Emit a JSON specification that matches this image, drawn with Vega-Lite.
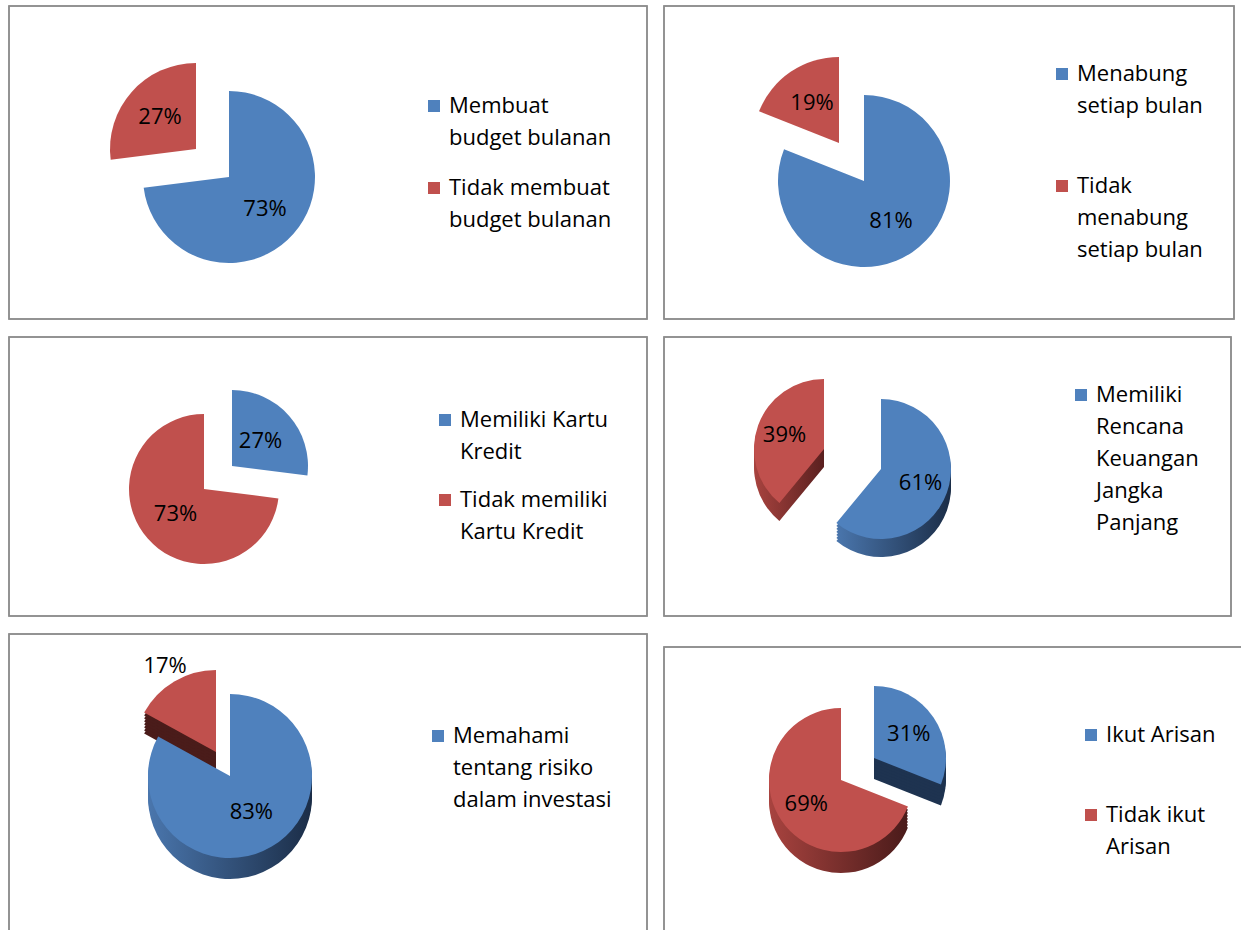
{
"$schema": "https://vega.github.io/schema/vega-lite/v6.json",
"background": "white",
"padding": {"left": 8, "top": 5, "right": 0, "bottom": 0},
"spacing": 16,
"resolve": {"scale": {"color": "independent", "theta": "independent"}, "legend": {"color": "independent"}},
"datasets": {
 "p1": [{"cat": "Membuat|budget bulanan", "v": 73, "label": "73%", "i": 1}, {"cat": "Tidak membuat|budget bulanan", "v": 27, "label": "27%", "i": 2}],
 "p2": [{"cat": "Menabung|setiap bulan", "v": 81, "label": "81%", "i": 1}, {"cat": "Tidak|menabung|setiap bulan", "v": 19, "label": "19%", "i": 2}],
 "p3": [{"cat": "Memiliki Kartu|Kredit", "v": 27, "label": "27%", "i": 1}, {"cat": "Tidak memiliki|Kartu Kredit", "v": 73, "label": "73%", "i": 2}],
 "p4": [{"cat": "Memiliki|Rencana|Keuangan|Jangka|Panjang", "v": 61, "label": "61%", "i": 1}, {"cat": "Tidak memiliki|Rencana|Keuangan|Jangka|Panjang", "v": 39, "label": "39%", "i": 2}],
 "p5": [{"cat": "Memahami|tentang risiko|dalam investasi", "v": 83, "label": "83%", "i": 1}, {"cat": "Tidak memahami|tentang risiko|dalam investasi", "v": 17, "label": "17%", "i": 2}],
 "p6": [{"cat": "Ikut Arisan", "v": 31, "label": "31%", "i": 1}, {"cat": "Tidak ikut|Arisan", "v": 69, "label": "69%", "i": 2}]
},
"vconcat": [
 {"spacing": 15, "resolve": {"scale": {"color": "independent", "theta": "independent"}, "legend": {"color": "independent"}}, "hconcat": [
  {"width": 638, "height": 313, "data": {"name": "p1"},
   "layer": [
    {"mark": {"type": "rect", "fill": null, "stroke": "#8c8c8c", "strokeWidth": 1.5}, "encoding": {}},
    {"mark": {"type": "arc", "x": 220, "y": 171, "radius": 86},
     "encoding": {"theta": {"field": "v", "type": "quantitative", "stack": true}, "order": {"field": "i", "type": "quantitative"},
      "color": {"field": "cat", "type": "nominal", "scale": {"range": ["#4F81BD", "#C0504D"]}, "legend": {"title": null, "orient": "none", "legendX": 414, "legendY": 89, "rowPadding": 28, "labelExpr": "split(datum.label, '|')"}},
      "opacity": {"condition": {"test": "datum.i==1", "value": 1}, "value": 0}}},
    {"mark": {"type": "arc", "x": 187, "y": 143, "radius": 86},
     "encoding": {"theta": {"field": "v", "type": "quantitative", "stack": true}, "order": {"field": "i", "type": "quantitative"},
      "color": {"field": "cat", "type": "nominal"}, "opacity": {"condition": {"test": "datum.i==2", "value": 1}, "value": 0}}},
    {"mark": {"type": "text", "x": 220, "y": 171, "radius": 48},
     "encoding": {"theta": {"field": "v", "type": "quantitative", "stack": true}, "order": {"field": "i", "type": "quantitative"},
      "text": {"field": "label"}, "opacity": {"condition": {"test": "datum.i==1", "value": 1}, "value": 0}}},
    {"mark": {"type": "text", "x": 187, "y": 143, "radius": 48},
     "encoding": {"theta": {"field": "v", "type": "quantitative", "stack": true}, "order": {"field": "i", "type": "quantitative"},
      "text": {"field": "label"}, "opacity": {"condition": {"test": "datum.i==2", "value": 1}, "value": 0}}}
   ]},
  {"width": 570, "height": 313, "data": {"name": "p2"},
   "layer": [
    {"mark": {"type": "rect", "fill": null, "stroke": "#8c8c8c", "strokeWidth": 1.5}, "encoding": {}},
    {"mark": {"type": "arc", "x": 200, "y": 175, "radius": 86},
     "encoding": {"theta": {"field": "v", "type": "quantitative", "stack": true}, "order": {"field": "i", "type": "quantitative"},
      "color": {"field": "cat", "type": "nominal", "scale": {"range": ["#4F81BD", "#C0504D"]}, "legend": {"title": null, "orient": "none", "legendX": 387, "legendY": 57, "rowPadding": 58, "labelExpr": "split(datum.label, '|')"}},
      "opacity": {"condition": {"test": "datum.i==1", "value": 1}, "value": 0}}},
    {"mark": {"type": "arc", "x": 175, "y": 137, "radius": 86},
     "encoding": {"theta": {"field": "v", "type": "quantitative", "stack": true}, "order": {"field": "i", "type": "quantitative"},
      "color": {"field": "cat", "type": "nominal"}, "opacity": {"condition": {"test": "datum.i==2", "value": 1}, "value": 0}}},
    {"mark": {"type": "text", "x": 200, "y": 175, "radius": 48},
     "encoding": {"theta": {"field": "v", "type": "quantitative", "stack": true}, "order": {"field": "i", "type": "quantitative"},
      "text": {"field": "label"}, "opacity": {"condition": {"test": "datum.i==1", "value": 1}, "value": 0}}},
    {"mark": {"type": "text", "x": 175, "y": 137, "radius": 48},
     "encoding": {"theta": {"field": "v", "type": "quantitative", "stack": true}, "order": {"field": "i", "type": "quantitative"},
      "text": {"field": "label"}, "opacity": {"condition": {"test": "datum.i==2", "value": 1}, "value": 0}}}
   ]}
 ]},
 {"spacing": 15, "resolve": {"scale": {"color": "independent", "theta": "independent"}, "legend": {"color": "independent"}}, "hconcat": [
  {"width": 638, "height": 279, "data": {"name": "p3"},
   "layer": [
    {"mark": {"type": "rect", "fill": null, "stroke": "#8c8c8c", "strokeWidth": 1.5}, "encoding": {}},
    {"mark": {"type": "arc", "x": 223, "y": 129, "radius": 76},
     "encoding": {"theta": {"field": "v", "type": "quantitative", "stack": true}, "order": {"field": "i", "type": "quantitative"},
      "color": {"field": "cat", "type": "nominal", "scale": {"range": ["#4F81BD", "#C0504D"]}, "legend": {"title": null, "orient": "none", "legendX": 425, "legendY": 72, "rowPadding": 26, "labelExpr": "split(datum.label, '|')"}},
      "opacity": {"condition": {"test": "datum.i==1", "value": 1}, "value": 0}}},
    {"mark": {"type": "arc", "x": 195, "y": 152, "radius": 75},
     "encoding": {"theta": {"field": "v", "type": "quantitative", "stack": true}, "order": {"field": "i", "type": "quantitative"},
      "color": {"field": "cat", "type": "nominal"}, "opacity": {"condition": {"test": "datum.i==2", "value": 1}, "value": 0}}},
    {"mark": {"type": "text", "x": 223, "y": 129, "radius": 38},
     "encoding": {"theta": {"field": "v", "type": "quantitative", "stack": true}, "order": {"field": "i", "type": "quantitative"},
      "text": {"field": "label"}, "opacity": {"condition": {"test": "datum.i==1", "value": 1}, "value": 0}}},
    {"mark": {"type": "text", "x": 195, "y": 152, "radius": 38},
     "encoding": {"theta": {"field": "v", "type": "quantitative", "stack": true}, "order": {"field": "i", "type": "quantitative"},
      "text": {"field": "label"}, "opacity": {"condition": {"test": "datum.i==2", "value": 1}, "value": 0}}}
   ]},
  {"width": 567, "height": 279, "data": {"name": "p4"},
   "layer": [
    {"mark": {"type": "rect", "fill": null, "stroke": "#8c8c8c", "strokeWidth": 1.5}, "encoding": {}},
    {"mark": {"type": "arc", "x": 160, "y": 130, "radius": 70, "fill": {"gradient": "linear", "x1": 0, "y1": 0, "x2": 1, "y2": 0, "stops": [{"offset": 0, "color": "#a8433f"}, {"offset": 1, "color": "#5a201f"}]}},
     "encoding": {"theta": {"field": "v", "type": "quantitative", "stack": true}, "order": {"field": "i", "type": "quantitative"}, "opacity": {"condition": {"test": "datum.i==2", "value": 1}, "value": 0}}},
    {"mark": {"type": "arc", "x": 160, "y": 127, "radius": 70, "fill": {"gradient": "linear", "x1": 0, "y1": 0, "x2": 1, "y2": 0, "stops": [{"offset": 0, "color": "#a8433f"}, {"offset": 1, "color": "#5a201f"}]}},
     "encoding": {"theta": {"field": "v", "type": "quantitative", "stack": true}, "order": {"field": "i", "type": "quantitative"}, "opacity": {"condition": {"test": "datum.i==2", "value": 1}, "value": 0}}},
    {"mark": {"type": "arc", "x": 160, "y": 124, "radius": 70, "fill": {"gradient": "linear", "x1": 0, "y1": 0, "x2": 1, "y2": 0, "stops": [{"offset": 0, "color": "#a8433f"}, {"offset": 1, "color": "#5a201f"}]}},
     "encoding": {"theta": {"field": "v", "type": "quantitative", "stack": true}, "order": {"field": "i", "type": "quantitative"}, "opacity": {"condition": {"test": "datum.i==2", "value": 1}, "value": 0}}},
    {"mark": {"type": "arc", "x": 160, "y": 121, "radius": 70, "fill": {"gradient": "linear", "x1": 0, "y1": 0, "x2": 1, "y2": 0, "stops": [{"offset": 0, "color": "#a8433f"}, {"offset": 1, "color": "#5a201f"}]}},
     "encoding": {"theta": {"field": "v", "type": "quantitative", "stack": true}, "order": {"field": "i", "type": "quantitative"}, "opacity": {"condition": {"test": "datum.i==2", "value": 1}, "value": 0}}},
    {"mark": {"type": "arc", "x": 160, "y": 118, "radius": 70, "fill": {"gradient": "linear", "x1": 0, "y1": 0, "x2": 1, "y2": 0, "stops": [{"offset": 0, "color": "#a8433f"}, {"offset": 1, "color": "#5a201f"}]}},
     "encoding": {"theta": {"field": "v", "type": "quantitative", "stack": true}, "order": {"field": "i", "type": "quantitative"}, "opacity": {"condition": {"test": "datum.i==2", "value": 1}, "value": 0}}},
    {"mark": {"type": "arc", "x": 160, "y": 115, "radius": 70, "fill": {"gradient": "linear", "x1": 0, "y1": 0, "x2": 1, "y2": 0, "stops": [{"offset": 0, "color": "#a8433f"}, {"offset": 1, "color": "#5a201f"}]}},
     "encoding": {"theta": {"field": "v", "type": "quantitative", "stack": true}, "order": {"field": "i", "type": "quantitative"}, "opacity": {"condition": {"test": "datum.i==2", "value": 1}, "value": 0}}},
    {"mark": {"type": "arc", "x": 217, "y": 150, "radius": 70, "fill": {"gradient": "linear", "x1": 0, "y1": 0, "x2": 1, "y2": 0, "stops": [{"offset": 0, "color": "#4a76ad"}, {"offset": 1, "color": "#1b2d47"}]}},
     "encoding": {"theta": {"field": "v", "type": "quantitative", "stack": true}, "order": {"field": "i", "type": "quantitative"}, "opacity": {"condition": {"test": "datum.i==1", "value": 1}, "value": 0}}},
    {"mark": {"type": "arc", "x": 217, "y": 147, "radius": 70, "fill": {"gradient": "linear", "x1": 0, "y1": 0, "x2": 1, "y2": 0, "stops": [{"offset": 0, "color": "#4a76ad"}, {"offset": 1, "color": "#1b2d47"}]}},
     "encoding": {"theta": {"field": "v", "type": "quantitative", "stack": true}, "order": {"field": "i", "type": "quantitative"}, "opacity": {"condition": {"test": "datum.i==1", "value": 1}, "value": 0}}},
    {"mark": {"type": "arc", "x": 217, "y": 144, "radius": 70, "fill": {"gradient": "linear", "x1": 0, "y1": 0, "x2": 1, "y2": 0, "stops": [{"offset": 0, "color": "#4a76ad"}, {"offset": 1, "color": "#1b2d47"}]}},
     "encoding": {"theta": {"field": "v", "type": "quantitative", "stack": true}, "order": {"field": "i", "type": "quantitative"}, "opacity": {"condition": {"test": "datum.i==1", "value": 1}, "value": 0}}},
    {"mark": {"type": "arc", "x": 217, "y": 141, "radius": 70, "fill": {"gradient": "linear", "x1": 0, "y1": 0, "x2": 1, "y2": 0, "stops": [{"offset": 0, "color": "#4a76ad"}, {"offset": 1, "color": "#1b2d47"}]}},
     "encoding": {"theta": {"field": "v", "type": "quantitative", "stack": true}, "order": {"field": "i", "type": "quantitative"}, "opacity": {"condition": {"test": "datum.i==1", "value": 1}, "value": 0}}},
    {"mark": {"type": "arc", "x": 217, "y": 138, "radius": 70, "fill": {"gradient": "linear", "x1": 0, "y1": 0, "x2": 1, "y2": 0, "stops": [{"offset": 0, "color": "#4a76ad"}, {"offset": 1, "color": "#1b2d47"}]}},
     "encoding": {"theta": {"field": "v", "type": "quantitative", "stack": true}, "order": {"field": "i", "type": "quantitative"}, "opacity": {"condition": {"test": "datum.i==1", "value": 1}, "value": 0}}},
    {"mark": {"type": "arc", "x": 217, "y": 135, "radius": 70, "fill": {"gradient": "linear", "x1": 0, "y1": 0, "x2": 1, "y2": 0, "stops": [{"offset": 0, "color": "#4a76ad"}, {"offset": 1, "color": "#1b2d47"}]}},
     "encoding": {"theta": {"field": "v", "type": "quantitative", "stack": true}, "order": {"field": "i", "type": "quantitative"}, "opacity": {"condition": {"test": "datum.i==1", "value": 1}, "value": 0}}},
    {"mark": {"type": "arc", "x": 217, "y": 132, "radius": 70},
     "encoding": {"theta": {"field": "v", "type": "quantitative", "stack": true}, "order": {"field": "i", "type": "quantitative"},
      "color": {"field": "cat", "type": "nominal", "scale": {"range": ["#4F81BD", "#C0504D"]}, "legend": {"title": null, "orient": "none", "legendX": 406, "legendY": 47, "values": ["Memiliki|Rencana|Keuangan|Jangka|Panjang"], "labelExpr": "split(datum.label, '|')"}},
      "opacity": {"condition": {"test": "datum.i==1", "value": 1}, "value": 0}}},
    {"mark": {"type": "arc", "x": 160, "y": 112, "radius": 70},
     "encoding": {"theta": {"field": "v", "type": "quantitative", "stack": true}, "order": {"field": "i", "type": "quantitative"},
      "color": {"field": "cat", "type": "nominal"}, "opacity": {"condition": {"test": "datum.i==2", "value": 1}, "value": 0}}},
    {"mark": {"type": "text", "x": 217, "y": 132, "radius": 42},
     "encoding": {"theta": {"field": "v", "type": "quantitative", "stack": true}, "order": {"field": "i", "type": "quantitative"},
      "text": {"field": "label"}, "opacity": {"condition": {"test": "datum.i==1", "value": 1}, "value": 0}}},
    {"mark": {"type": "text", "x": 160, "y": 112, "radius": 42},
     "encoding": {"theta": {"field": "v", "type": "quantitative", "stack": true}, "order": {"field": "i", "type": "quantitative"},
      "text": {"field": "label"}, "opacity": {"condition": {"test": "datum.i==2", "value": 1}, "value": 0}}}
   ]}
 ]},
 {"spacing": 15, "resolve": {"scale": {"color": "independent", "theta": "independent"}, "legend": {"color": "independent"}}, "hconcat": [
  {"width": 638, "height": 300, "data": {"name": "p5"},
   "layer": [
    {"mark": {"type": "rect", "fill": null, "stroke": "#8c8c8c", "strokeWidth": 1.5}, "encoding": {}},
    {"mark": {"type": "arc", "x": 207, "y": 139, "radius": 82, "fill": "#4a1c1a"},
     "encoding": {"theta": {"field": "v", "type": "quantitative", "stack": true}, "order": {"field": "i", "type": "quantitative"}, "opacity": {"condition": {"test": "datum.i==2", "value": 1}, "value": 0}}},
    {"mark": {"type": "arc", "x": 207, "y": 136, "radius": 82, "fill": "#4a1c1a"},
     "encoding": {"theta": {"field": "v", "type": "quantitative", "stack": true}, "order": {"field": "i", "type": "quantitative"}, "opacity": {"condition": {"test": "datum.i==2", "value": 1}, "value": 0}}},
    {"mark": {"type": "arc", "x": 207, "y": 133, "radius": 82, "fill": "#4a1c1a"},
     "encoding": {"theta": {"field": "v", "type": "quantitative", "stack": true}, "order": {"field": "i", "type": "quantitative"}, "opacity": {"condition": {"test": "datum.i==2", "value": 1}, "value": 0}}},
    {"mark": {"type": "arc", "x": 207, "y": 130, "radius": 82, "fill": "#4a1c1a"},
     "encoding": {"theta": {"field": "v", "type": "quantitative", "stack": true}, "order": {"field": "i", "type": "quantitative"}, "opacity": {"condition": {"test": "datum.i==2", "value": 1}, "value": 0}}},
    {"mark": {"type": "arc", "x": 207, "y": 127, "radius": 82, "fill": "#4a1c1a"},
     "encoding": {"theta": {"field": "v", "type": "quantitative", "stack": true}, "order": {"field": "i", "type": "quantitative"}, "opacity": {"condition": {"test": "datum.i==2", "value": 1}, "value": 0}}},
    {"mark": {"type": "arc", "x": 207, "y": 124, "radius": 82, "fill": "#4a1c1a"},
     "encoding": {"theta": {"field": "v", "type": "quantitative", "stack": true}, "order": {"field": "i", "type": "quantitative"}, "opacity": {"condition": {"test": "datum.i==2", "value": 1}, "value": 0}}},
    {"mark": {"type": "arc", "x": 207, "y": 121, "radius": 82, "fill": "#4a1c1a"},
     "encoding": {"theta": {"field": "v", "type": "quantitative", "stack": true}, "order": {"field": "i", "type": "quantitative"}, "opacity": {"condition": {"test": "datum.i==2", "value": 1}, "value": 0}}},
    {"mark": {"type": "arc", "x": 221, "y": 163, "radius": 82, "fill": {"gradient": "linear", "x1": 0, "y1": 0, "x2": 1, "y2": 0, "stops": [{"offset": 0, "color": "#4a76ad"}, {"offset": 1, "color": "#1b2d47"}]}},
     "encoding": {"theta": {"field": "v", "type": "quantitative", "stack": true}, "order": {"field": "i", "type": "quantitative"}, "opacity": {"condition": {"test": "datum.i==1", "value": 1}, "value": 0}}},
    {"mark": {"type": "arc", "x": 221, "y": 160, "radius": 82, "fill": {"gradient": "linear", "x1": 0, "y1": 0, "x2": 1, "y2": 0, "stops": [{"offset": 0, "color": "#4a76ad"}, {"offset": 1, "color": "#1b2d47"}]}},
     "encoding": {"theta": {"field": "v", "type": "quantitative", "stack": true}, "order": {"field": "i", "type": "quantitative"}, "opacity": {"condition": {"test": "datum.i==1", "value": 1}, "value": 0}}},
    {"mark": {"type": "arc", "x": 221, "y": 157, "radius": 82, "fill": {"gradient": "linear", "x1": 0, "y1": 0, "x2": 1, "y2": 0, "stops": [{"offset": 0, "color": "#4a76ad"}, {"offset": 1, "color": "#1b2d47"}]}},
     "encoding": {"theta": {"field": "v", "type": "quantitative", "stack": true}, "order": {"field": "i", "type": "quantitative"}, "opacity": {"condition": {"test": "datum.i==1", "value": 1}, "value": 0}}},
    {"mark": {"type": "arc", "x": 221, "y": 154, "radius": 82, "fill": {"gradient": "linear", "x1": 0, "y1": 0, "x2": 1, "y2": 0, "stops": [{"offset": 0, "color": "#4a76ad"}, {"offset": 1, "color": "#1b2d47"}]}},
     "encoding": {"theta": {"field": "v", "type": "quantitative", "stack": true}, "order": {"field": "i", "type": "quantitative"}, "opacity": {"condition": {"test": "datum.i==1", "value": 1}, "value": 0}}},
    {"mark": {"type": "arc", "x": 221, "y": 151, "radius": 82, "fill": {"gradient": "linear", "x1": 0, "y1": 0, "x2": 1, "y2": 0, "stops": [{"offset": 0, "color": "#4a76ad"}, {"offset": 1, "color": "#1b2d47"}]}},
     "encoding": {"theta": {"field": "v", "type": "quantitative", "stack": true}, "order": {"field": "i", "type": "quantitative"}, "opacity": {"condition": {"test": "datum.i==1", "value": 1}, "value": 0}}},
    {"mark": {"type": "arc", "x": 221, "y": 148, "radius": 82, "fill": {"gradient": "linear", "x1": 0, "y1": 0, "x2": 1, "y2": 0, "stops": [{"offset": 0, "color": "#4a76ad"}, {"offset": 1, "color": "#1b2d47"}]}},
     "encoding": {"theta": {"field": "v", "type": "quantitative", "stack": true}, "order": {"field": "i", "type": "quantitative"}, "opacity": {"condition": {"test": "datum.i==1", "value": 1}, "value": 0}}},
    {"mark": {"type": "arc", "x": 221, "y": 145, "radius": 82, "fill": {"gradient": "linear", "x1": 0, "y1": 0, "x2": 1, "y2": 0, "stops": [{"offset": 0, "color": "#4a76ad"}, {"offset": 1, "color": "#1b2d47"}]}},
     "encoding": {"theta": {"field": "v", "type": "quantitative", "stack": true}, "order": {"field": "i", "type": "quantitative"}, "opacity": {"condition": {"test": "datum.i==1", "value": 1}, "value": 0}}},
    {"mark": {"type": "arc", "x": 207, "y": 118, "radius": 82},
     "encoding": {"theta": {"field": "v", "type": "quantitative", "stack": true}, "order": {"field": "i", "type": "quantitative"},
      "color": {"field": "cat", "type": "nominal", "scale": {"range": ["#4F81BD", "#C0504D"]}, "legend": {"title": null, "orient": "none", "legendX": 418, "legendY": 91, "values": ["Memahami|tentang risiko|dalam investasi"], "labelExpr": "split(datum.label, '|')"}},
      "opacity": {"condition": {"test": "datum.i==2", "value": 1}, "value": 0}}},
    {"mark": {"type": "arc", "x": 221, "y": 142, "radius": 82},
     "encoding": {"theta": {"field": "v", "type": "quantitative", "stack": true}, "order": {"field": "i", "type": "quantitative"},
      "color": {"field": "cat", "type": "nominal"}, "opacity": {"condition": {"test": "datum.i==1", "value": 1}, "value": 0}}},
    {"mark": {"type": "text", "x": 221, "y": 142, "radius": 42},
     "encoding": {"theta": {"field": "v", "type": "quantitative", "stack": true}, "order": {"field": "i", "type": "quantitative"},
      "text": {"field": "label"}, "opacity": {"condition": {"test": "datum.i==1", "value": 1}, "value": 0}}},
    {"mark": {"type": "text", "x": 207, "y": 118, "radius": 100},
     "encoding": {"theta": {"field": "v", "type": "quantitative", "stack": true}, "order": {"field": "i", "type": "quantitative"},
      "text": {"field": "label"}, "opacity": {"condition": {"test": "datum.i==2", "value": 1}, "value": 0}}}
   ]},
  {"spacing": 11, "resolve": {"scale": {"color": "independent", "theta": "independent"}, "legend": {"color": "independent"}}, "vconcat": [
   {"width": 582, "height": 1, "data": {"values": []}, "mark": "rect", "encoding": {}},
   {"width": 582, "height": 290, "data": {"name": "p6"},
    "layer": [
     {"mark": {"type": "rect", "fill": null, "stroke": "#8c8c8c", "strokeWidth": 1.5}, "encoding": {}},
     {"mark": {"type": "arc", "x": 210, "y": 132, "radius": 72, "fill": "#1e3350"},
      "encoding": {"theta": {"field": "v", "type": "quantitative", "stack": true}, "order": {"field": "i", "type": "quantitative"}, "opacity": {"condition": {"test": "datum.i==1", "value": 1}, "value": 0}}},
     {"mark": {"type": "arc", "x": 210, "y": 129, "radius": 72, "fill": "#1e3350"},
      "encoding": {"theta": {"field": "v", "type": "quantitative", "stack": true}, "order": {"field": "i", "type": "quantitative"}, "opacity": {"condition": {"test": "datum.i==1", "value": 1}, "value": 0}}},
     {"mark": {"type": "arc", "x": 210, "y": 126, "radius": 72, "fill": "#1e3350"},
      "encoding": {"theta": {"field": "v", "type": "quantitative", "stack": true}, "order": {"field": "i", "type": "quantitative"}, "opacity": {"condition": {"test": "datum.i==1", "value": 1}, "value": 0}}},
     {"mark": {"type": "arc", "x": 210, "y": 123, "radius": 72, "fill": "#1e3350"},
      "encoding": {"theta": {"field": "v", "type": "quantitative", "stack": true}, "order": {"field": "i", "type": "quantitative"}, "opacity": {"condition": {"test": "datum.i==1", "value": 1}, "value": 0}}},
     {"mark": {"type": "arc", "x": 210, "y": 120, "radius": 72, "fill": "#1e3350"},
      "encoding": {"theta": {"field": "v", "type": "quantitative", "stack": true}, "order": {"field": "i", "type": "quantitative"}, "opacity": {"condition": {"test": "datum.i==1", "value": 1}, "value": 0}}},
     {"mark": {"type": "arc", "x": 210, "y": 117, "radius": 72, "fill": "#1e3350"},
      "encoding": {"theta": {"field": "v", "type": "quantitative", "stack": true}, "order": {"field": "i", "type": "quantitative"}, "opacity": {"condition": {"test": "datum.i==1", "value": 1}, "value": 0}}},
     {"mark": {"type": "arc", "x": 210, "y": 114, "radius": 72, "fill": "#1e3350"},
      "encoding": {"theta": {"field": "v", "type": "quantitative", "stack": true}, "order": {"field": "i", "type": "quantitative"}, "opacity": {"condition": {"test": "datum.i==1", "value": 1}, "value": 0}}},
     {"mark": {"type": "arc", "x": 177, "y": 154, "radius": 72, "fill": {"gradient": "linear", "x1": 0, "y1": 0, "x2": 1, "y2": 0, "stops": [{"offset": 0, "color": "#a8433f"}, {"offset": 1, "color": "#4a1b1a"}]}},
      "encoding": {"theta": {"field": "v", "type": "quantitative", "stack": true}, "order": {"field": "i", "type": "quantitative"}, "opacity": {"condition": {"test": "datum.i==2", "value": 1}, "value": 0}}},
     {"mark": {"type": "arc", "x": 177, "y": 151, "radius": 72, "fill": {"gradient": "linear", "x1": 0, "y1": 0, "x2": 1, "y2": 0, "stops": [{"offset": 0, "color": "#a8433f"}, {"offset": 1, "color": "#4a1b1a"}]}},
      "encoding": {"theta": {"field": "v", "type": "quantitative", "stack": true}, "order": {"field": "i", "type": "quantitative"}, "opacity": {"condition": {"test": "datum.i==2", "value": 1}, "value": 0}}},
     {"mark": {"type": "arc", "x": 177, "y": 148, "radius": 72, "fill": {"gradient": "linear", "x1": 0, "y1": 0, "x2": 1, "y2": 0, "stops": [{"offset": 0, "color": "#a8433f"}, {"offset": 1, "color": "#4a1b1a"}]}},
      "encoding": {"theta": {"field": "v", "type": "quantitative", "stack": true}, "order": {"field": "i", "type": "quantitative"}, "opacity": {"condition": {"test": "datum.i==2", "value": 1}, "value": 0}}},
     {"mark": {"type": "arc", "x": 177, "y": 145, "radius": 72, "fill": {"gradient": "linear", "x1": 0, "y1": 0, "x2": 1, "y2": 0, "stops": [{"offset": 0, "color": "#a8433f"}, {"offset": 1, "color": "#4a1b1a"}]}},
      "encoding": {"theta": {"field": "v", "type": "quantitative", "stack": true}, "order": {"field": "i", "type": "quantitative"}, "opacity": {"condition": {"test": "datum.i==2", "value": 1}, "value": 0}}},
     {"mark": {"type": "arc", "x": 177, "y": 142, "radius": 72, "fill": {"gradient": "linear", "x1": 0, "y1": 0, "x2": 1, "y2": 0, "stops": [{"offset": 0, "color": "#a8433f"}, {"offset": 1, "color": "#4a1b1a"}]}},
      "encoding": {"theta": {"field": "v", "type": "quantitative", "stack": true}, "order": {"field": "i", "type": "quantitative"}, "opacity": {"condition": {"test": "datum.i==2", "value": 1}, "value": 0}}},
     {"mark": {"type": "arc", "x": 177, "y": 139, "radius": 72, "fill": {"gradient": "linear", "x1": 0, "y1": 0, "x2": 1, "y2": 0, "stops": [{"offset": 0, "color": "#a8433f"}, {"offset": 1, "color": "#4a1b1a"}]}},
      "encoding": {"theta": {"field": "v", "type": "quantitative", "stack": true}, "order": {"field": "i", "type": "quantitative"}, "opacity": {"condition": {"test": "datum.i==2", "value": 1}, "value": 0}}},
     {"mark": {"type": "arc", "x": 177, "y": 136, "radius": 72, "fill": {"gradient": "linear", "x1": 0, "y1": 0, "x2": 1, "y2": 0, "stops": [{"offset": 0, "color": "#a8433f"}, {"offset": 1, "color": "#4a1b1a"}]}},
      "encoding": {"theta": {"field": "v", "type": "quantitative", "stack": true}, "order": {"field": "i", "type": "quantitative"}, "opacity": {"condition": {"test": "datum.i==2", "value": 1}, "value": 0}}},
     {"mark": {"type": "arc", "x": 210, "y": 111, "radius": 72},
      "encoding": {"theta": {"field": "v", "type": "quantitative", "stack": true}, "order": {"field": "i", "type": "quantitative"},
       "color": {"field": "cat", "type": "nominal", "scale": {"range": ["#4F81BD", "#C0504D"]}, "legend": {"title": null, "orient": "none", "legendX": 416, "legendY": 77, "rowPadding": 58, "labelExpr": "split(datum.label, '|')"}},
       "opacity": {"condition": {"test": "datum.i==1", "value": 1}, "value": 0}}},
     {"mark": {"type": "arc", "x": 177, "y": 133, "radius": 72},
      "encoding": {"theta": {"field": "v", "type": "quantitative", "stack": true}, "order": {"field": "i", "type": "quantitative"},
       "color": {"field": "cat", "type": "nominal"}, "opacity": {"condition": {"test": "datum.i==2", "value": 1}, "value": 0}}},
     {"mark": {"type": "text", "x": 210, "y": 111, "radius": 42},
      "encoding": {"theta": {"field": "v", "type": "quantitative", "stack": true}, "order": {"field": "i", "type": "quantitative"},
       "text": {"field": "label"}, "opacity": {"condition": {"test": "datum.i==1", "value": 1}, "value": 0}}},
     {"mark": {"type": "text", "x": 177, "y": 133, "radius": 42},
      "encoding": {"theta": {"field": "v", "type": "quantitative", "stack": true}, "order": {"field": "i", "type": "quantitative"},
       "text": {"field": "label"}, "opacity": {"condition": {"test": "datum.i==2", "value": 1}, "value": 0}}}
    ]}
  ]}
 ]}
],
"config": {
 "view": {"stroke": null},
 "text": {"font": "Open Sans", "fontSize": 22, "color": "#000000"},
 "style": {"guide-label": {"lineHeight": 32}},
 "legend": {"labelFont": "Open Sans", "labelFontSize": 22, "labelColor": "#000000", "symbolType": "square", "symbolSize": 144, "symbolStrokeWidth": 0, "labelOffset": 4, "labelLimit": 400, "padding": 0, "direction": "vertical"}
}
}
